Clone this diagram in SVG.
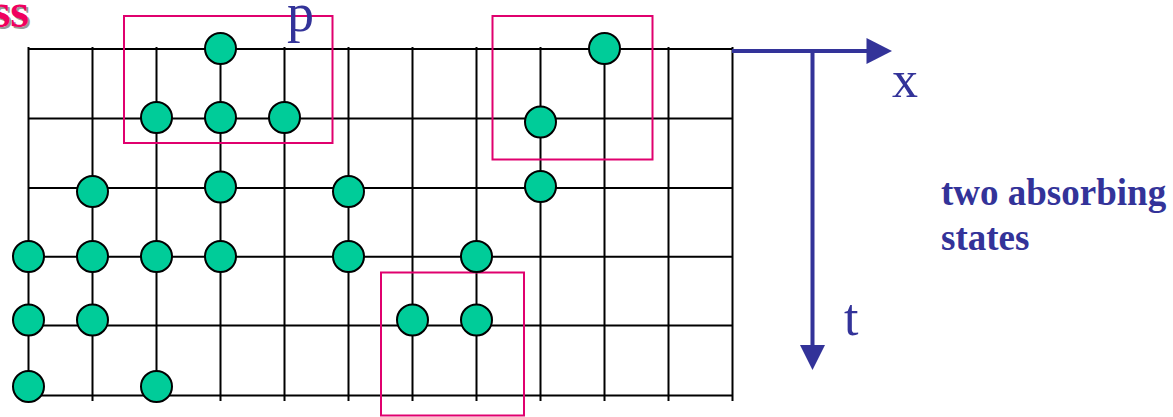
<svg xmlns="http://www.w3.org/2000/svg" width="1173" height="417" viewBox="0 0 1173 417">
<style>
.g{stroke:#000;stroke-width:2;fill:none}
.n{fill:#00CC99;stroke:#000;stroke-width:2}
.box{fill:none;stroke:#E0006E;stroke-width:2}
.ax{stroke:#333399;stroke-width:4;fill:none}
.ah{fill:#333399}
.lbl{font-family:"Liberation Serif","Times New Roman",serif;fill:#333399}
.ttl{font-family:"Liberation Serif","Times New Roman",serif;font-weight:bold;font-size:48px}
</style>
<rect width="1173" height="417" fill="#fff"/>
<g id="title">
<text class="ttl" x="31" y="29" fill="#999" text-anchor="end">ss</text>
<text class="ttl" x="29" y="27" fill="#F0005F" text-anchor="end">ss</text>
</g>
<g id="connectors">
<path class="g" d="M28.5 47V401M92.5 47V401M156.5 47V401M220.5 47V401M284.5 47V401M348.5 47V401M412.5 47V401M476.5 47V401M540.5 47V401M604.5 47V401M668.5 47V401M732.5 47V401"/>
<path class="g" d="M28.5 49H732.5M28.5 118.5H732.5M28.5 188H732.5M28.5 256.7H732.5M28.5 325.5H732.5M28.5 395.5H732.5"/>
</g>
<g id="boxes">
<rect class="box" x="124" y="16" width="208.5" height="127"/>
<rect class="box" x="492.5" y="16" width="160" height="143.5"/>
<rect class="box" x="381" y="272.5" width="143" height="143"/>
</g>
<g id="nodes">
<g id="n1"><circle class="n" cx="220.5" cy="48.5" r="15.5"/></g>
<g id="n2"><circle class="n" cx="604.5" cy="48.5" r="15.5"/></g>
<g id="n3"><circle class="n" cx="156.5" cy="117.5" r="15.5"/></g>
<g id="n4"><circle class="n" cx="220.5" cy="117.5" r="15.5"/></g>
<g id="n5"><circle class="n" cx="284.5" cy="117.5" r="15.5"/></g>
<g id="n6"><circle class="n" cx="540.5" cy="122" r="15.5"/></g>
<g id="n7"><circle class="n" cx="92.5" cy="191.5" r="15.5"/></g>
<g id="n8"><circle class="n" cx="220.5" cy="187" r="15.5"/></g>
<g id="n9"><circle class="n" cx="348.5" cy="191.5" r="15.5"/></g>
<g id="n10"><circle class="n" cx="540.5" cy="186.5" r="15.5"/></g>
<g id="n11"><circle class="n" cx="28.5" cy="256.5" r="15.5"/></g>
<g id="n12"><circle class="n" cx="92.5" cy="256.5" r="15.5"/></g>
<g id="n13"><circle class="n" cx="156.5" cy="256.5" r="15.5"/></g>
<g id="n14"><circle class="n" cx="220.5" cy="256.5" r="15.5"/></g>
<g id="n15"><circle class="n" cx="348.5" cy="256.5" r="15.5"/></g>
<g id="n16"><circle class="n" cx="476.5" cy="256.5" r="15.5"/></g>
<g id="n17"><circle class="n" cx="28.5" cy="320" r="15.5"/></g>
<g id="n18"><circle class="n" cx="92.5" cy="320" r="15.5"/></g>
<g id="n19"><circle class="n" cx="412.5" cy="320" r="15.5"/></g>
<g id="n20"><circle class="n" cx="476.5" cy="320" r="15.5"/></g>
<g id="n21"><circle class="n" cx="28.5" cy="386.5" r="15.5"/></g>
<g id="n22"><circle class="n" cx="156.5" cy="386.5" r="15.5"/></g>
</g>
<g id="axes">
<path class="ax" d="M732 51H868M812.5 51V347"/>
<polygon class="ah" points="866.5,38 892,51 866.5,64"/>
<polygon class="ah" points="800,345 825,345 812.5,370"/>
</g>
<g id="labels">
<text class="lbl" x="287" y="31" font-size="54">p</text>
<text class="lbl" x="892" y="97" font-size="52">x</text>
<text class="lbl" x="844" y="335" font-size="52">t</text>
<text class="lbl" x="941" y="205" font-size="37" font-weight="bold">two absorbing</text>
<text class="lbl" x="941" y="250" font-size="37" font-weight="bold">states</text>
</g>
</svg>
